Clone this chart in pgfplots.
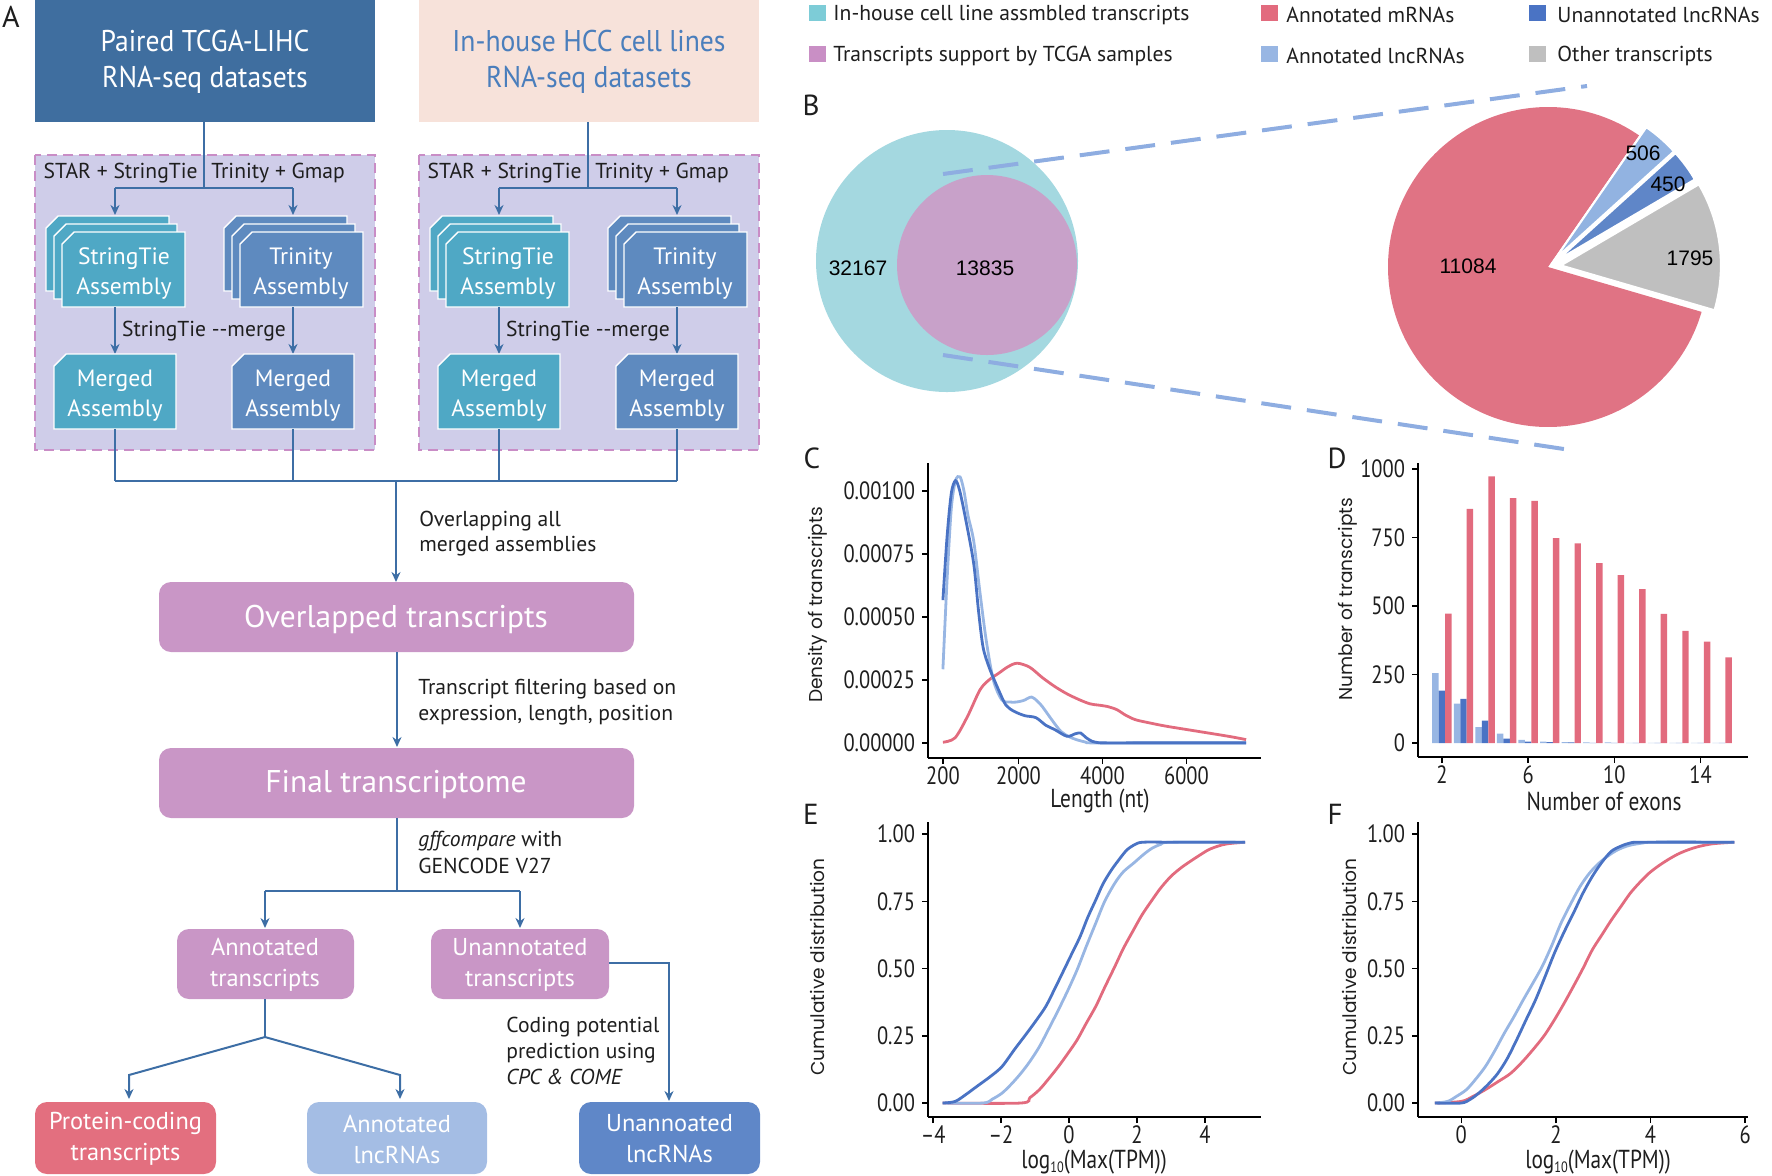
\documentclass[border=0pt]{standalone}
\usepackage{pgfplots}
\pgfplotsset{compat=1.18}
\usepackage{fontspec}
\setmainfont{PT Sans}
\newfontfamily\geo{Poppins}
\newfontfamily\arl{Liberation Sans}
\newfontfamily\cond{PT Sans}[FakeStretch=0.82]
\newfontfamily\semicond{PT Sans}[FakeStretch=0.92]
\usetikzlibrary{arrows.meta}

\definecolor{tbdark}{HTML}{3F6E9F}
\definecolor{peach}{HTML}{F7E2DA}
\definecolor{peachtxt}{HTML}{4A7EBC}
\definecolor{lav}{HTML}{CFCDE9}
\definecolor{lavdash}{HTML}{C98DC6}
\definecolor{tealbox}{HTML}{4FA8C5}
\definecolor{steel}{HTML}{5E8ABF}
\definecolor{flow}{HTML}{3D6EA5}
\definecolor{pinkbox}{HTML}{C996C6}
\definecolor{pcred}{HTML}{E36F7F}
\definecolor{albox}{HTML}{A4BDE4}
\definecolor{ulbox}{HTML}{5F87C8}
\definecolor{lgteal}{HTML}{7DCCD7}
\definecolor{lgmauve}{HTML}{C98FC5}
\definecolor{cred}{HTML}{E26B7E}
\definecolor{clb}{HTML}{98B6E3}
\definecolor{cdb}{HTML}{4A73C4}
\definecolor{cgray}{HTML}{BFBFBF}
\definecolor{vout}{HTML}{A4D8E0}
\definecolor{vin}{HTML}{C8A1C9}
\definecolor{dashb}{HTML}{8EADE1}
\definecolor{piered}{HTML}{E07384}
\definecolor{pielb}{HTML}{92B3E1}
\definecolor{piedb}{HTML}{5F86C8}
\definecolor{ink}{HTML}{1E1E1E}

\pgfplotsset{
  panel/.style={
    scale only axis, anchor=south west,
    axis lines*=left,
    axis line style={line width=0.9pt, black, -},
    tick style={line width=0.8pt, black},
    tick align=outside, major tick length=3pt,
    ticklabel style={font=\cond\fontsize{12.5}{13}\selectfont, text=ink},
    xticklabel style={yshift=2.2pt},
    /pgf/number format/assume math mode=true,
    scaled ticks=false,
    clip=false,
  },
  curve/.style={line width=1.4pt, smooth, tension=0.5, no markers},
}

% chamfered box: x1 y1 x2 y2 colour
\newcommand\cbox[5]{\fill[#5, draw=white, line width=0.7pt]
  (#1+12,#2) -- (#3,#2) -- (#3,#4) -- (#1,#4) -- (#1,#2+12) -- cycle;}
\newcommand\logten{log\raisebox{-2.2pt}{\fontsize{7.5}{8}\selectfont 10}}

\begin{document}
\begin{tikzpicture}
\path[use as bounding box] (0,0) rectangle (886pt,-587.5pt);

\begin{scope}[x=0.5pt, y=-0.5pt, text=ink, inner sep=0pt,
  arr/.style={flow, line width=1pt, -{Stealth[length=5pt,width=4.5pt]}},
  ln/.style={flow, line width=1pt}]
% ---------------- panel A ----------------
\node[font=\fontsize{15}{15}\selectfont] at (11,17) {A};
\fill[tbdark] (35,0) rectangle (375,122);
\fill[peach] (419,0) rectangle (759,122);
\node[white, align=center, font=\semicond\fontsize{15}{18}\selectfont] at (205,62) {Paired TCGA-LIHC\\RNA-seq datasets};
\node[peachtxt, align=center, font=\semicond\fontsize{15}{18}\selectfont] at (589,62) {In-house HCC cell lines\\RNA-seq datasets};

\foreach \s in {0,384}{
  \begin{scope}[xshift=\s*0.5pt]
  \fill[lav] (35,155) rectangle (375,450);
  \draw[lavdash, line width=1pt, dash pattern=on 5pt off 3pt] (35,155) rectangle (375,450);
  \draw[ln] (204,122) -- (204,188);
  \draw[ln] (115,188) -- (293,188);
  \draw[arr] (115,188) -- (115,215);
  \draw[arr] (293,188) -- (293,215);
  \node[anchor=east, font=\fontsize{10.8}{12}\selectfont] at (198,173) {STAR + StringTie};
  \node[anchor=west, font=\fontsize{10.8}{12}\selectfont] at (211,173) {Trinity + Gmap};
  \cbox{46}{216}{169}{291}{tealbox}\cbox{54}{224}{177}{299}{tealbox}\cbox{62}{232}{185}{307}{tealbox}
  \cbox{224}{216}{347}{291}{steel}\cbox{232}{224}{355}{299}{steel}\cbox{240}{232}{363}{307}{steel}
  \node[white, align=center, font=\fontsize{11.8}{15}\selectfont] at (124,274) {StringTie\\Assembly};
  \node[white, align=center, font=\fontsize{11.8}{15}\selectfont] at (301,274) {Trinity\\Assembly};
  \draw[arr] (115,307) -- (115,354);
  \draw[arr] (293,307) -- (293,354);
  \node[font=\fontsize{10.8}{12}\selectfont] at (204,331) {StringTie -{}-merge};
  \cbox{54}{354}{176}{429}{tealbox}
  \cbox{232}{354}{354}{429}{steel}
  \node[white, align=center, font=\fontsize{11.8}{15}\selectfont] at (115,396) {Merged\\Assembly};
  \node[white, align=center, font=\fontsize{11.8}{15}\selectfont] at (293,396) {Merged\\Assembly};
  \draw[ln] (115,429) -- (115,481);
  \draw[ln] (293,429) -- (293,481);
  \end{scope}
}
\draw[ln] (115,481) -- (677,481);
\draw[arr] (396,481) -- (396,582);
\node[anchor=base west, font=\fontsize{10.8}{12}\selectfont] at (419,526) {Overlapping all};
\node[anchor=base west, font=\fontsize{10.8}{12}\selectfont] at (419,551) {merged assemblies};

\fill[pinkbox, rounded corners=6pt] (159,582) rectangle (634,652);
\node[white, font=\fontsize{15.7}{16}\selectfont] at (396,619) {Overlapped transcripts};
\draw[arr] (397,652) -- (397,747);
\node[anchor=base west, font=\fontsize{10.8}{12}\selectfont] at (418,694) {Transcript filtering based on};
\node[anchor=base west, font=\fontsize{10.8}{12}\selectfont] at (418,720) {expression, length, position};
\fill[pinkbox, rounded corners=6pt] (159,748) rectangle (634,818);
\node[white, font=\fontsize{15.7}{16}\selectfont] at (396,785) {Final transcriptome};
\draw[ln] (397,818) -- (397,891);
\draw[ln] (265,891) -- (520,891);
\draw[arr] (265,891) -- (265,928);
\draw[arr] (520,891) -- (520,928);
\node[anchor=base west, font=\fontsize{10.8}{12}\selectfont] at (418,846) {\textit{gffcompare} with};
\node[anchor=base west, font=\fontsize{10.8}{12}\selectfont] at (418,873) {GENCODE V27};

\fill[pinkbox, rounded corners=6pt] (177,929) rectangle (354,999);
\fill[pinkbox, rounded corners=6pt] (431,929) rectangle (609,999);
\node[white, align=center, font=\fontsize{12.2}{15.5}\selectfont] at (265,965) {Annotated\\transcripts};
\node[white, align=center, font=\fontsize{12.2}{15.5}\selectfont] at (520,965) {Unannotated\\transcripts};
\draw[ln] (265,999) -- (265,1037);
\draw[arr] (265,1037) -- (129,1075) -- (129,1099);
\draw[arr] (265,1037) -- (400,1075) -- (400,1099);
\draw[arr] (609,963) -- (669,963) -- (669,1101);
\node[anchor=base west, font=\fontsize{10.8}{12}\selectfont] at (506,1032) {Coding potential};
\node[anchor=base west, font=\fontsize{10.8}{12}\selectfont] at (506,1058) {prediction using};
\node[anchor=base west, font=\fontsize{10.8}{12}\selectfont] at (506,1084) {\textit{CPC \& COME}};

\fill[pcred, rounded corners=6pt] (35,1102) rectangle (216,1174);
\fill[albox, rounded corners=6pt] (307,1102) rectangle (487,1174);
\fill[ulbox, rounded corners=6pt] (579,1102) rectangle (760,1174);
\node[white, align=center, font=\fontsize{12.2}{15.5}\selectfont] at (125.5,1139) {Protein-coding\\transcripts};
\node[white, align=center, font=\fontsize{12.2}{15.5}\selectfont] at (397,1139) {Annotated\\lncRNAs};
\node[white, align=center, font=\fontsize{12.2}{15.5}\selectfont] at (669.5,1139) {Unannoated\\lncRNAs};

% ---------------- legend ----------------
\begin{scope}[font=\fontsize{10.8}{12}\selectfont]
\fill[lgteal] (809,5) rectangle (826,21);  \node[anchor=west] at (833,15) {In-house cell line assmbled transcripts};
\fill[cred] (1261,5) rectangle (1278,21);  \node[anchor=west] at (1286,15) {Annotated mRNAs};
\fill[cdb] (1529,5) rectangle (1546,21);   \node[anchor=west] at (1557,15) {Unannotated lncRNAs};
\fill[lgmauve] (809,46) rectangle (826,62); \node[anchor=west] at (833,56) {Transcripts support by TCGA samples};
\fill[clb] (1261,46) rectangle (1278,62);  \node[anchor=west] at (1286,56) {Annotated lncRNAs};
\fill[cgray] (1529,46) rectangle (1546,62); \node[anchor=west] at (1557,56) {Other transcripts};
\end{scope}

% panel letters and axis titles
\begin{scope}[font=\fontsize{14.5}{15}\selectfont]
\node at (811,105) {B};
\node at (812,458) {C};
\node at (1337,458) {D};
\node at (811,814) {E};
\node at (1335,814) {F};
\end{scope}
\begin{scope}[font=\geo\fontsize{9.3}{10}\selectfont]
\node[rotate=90] at (818,605) {Density of transcripts};
\node[rotate=90] at (1348,599) {Number of transcripts};
\node[rotate=90] at (817,967) {Cumulative distribution};
\node[rotate=90] at (1349,967) {Cumulative distribution};
\end{scope}
\begin{scope}[font=\cond\fontsize{13}{14}\selectfont]
\node at (1100,801) {Length (nt)};
\node at (1604,801) {Number of exons};
\node at (1094,1162) {\logten(Max(TPM))};
\node at (1598,1162) {\logten(Max(TPM))};
\end{scope}
\end{scope}

% ---------------- panel B: Venn and pie ----------------
\pgfmathsetmacro\tot{11084+506+450+1795}
\pgfmathsetmacro\sA{55.3}
\pgfmathsetmacro\eA{\sA+360*(11084/\tot)}
\pgfmathsetmacro\sB{\sA-360*(506/\tot)}
\pgfmathsetmacro\sC{\sB-360*(450/\tot)}
\pgfmathsetmacro\sD{\sC-360*(1795/\tot)}
\pgfmathsetmacro\mB{(\sA+\sB)/2}
\pgfmathsetmacro\mC{(\sB+\sC)/2}
\pgfmathsetmacro\mD{(\sC+\sD)/2}
\begin{axis}[at={(400pt,-235pt)}, anchor=south west, scale only axis,
  width=486pt, height=195pt, xmin=800, xmax=1772, ymin=-470, ymax=-80,
  hide axis, clip=false]
\fill[vout] (axis cs:947,-261) circle[radius=65.5pt];
\fill[vin] (axis cs:987,-265) circle[radius=45pt];
\node[font=\arl\fontsize{10.5}{12}\selectfont] at (axis cs:858,-268) {32167};
\node[font=\arl\fontsize{10.5}{12}\selectfont] at (axis cs:985,-268) {13835};
\draw[dashb, line width=2pt, dash pattern=on 15pt off 8pt] (axis cs:943,-174) -- (axis cs:1587,-86);
\draw[dashb, line width=2pt, dash pattern=on 15pt off 8pt] (axis cs:943,-355) -- (axis cs:1577,-451);
\fill[piered] (axis cs:1548,-267) -- ++(\sA:80pt) arc[start angle=\sA, end angle=\eA, radius=80pt] -- cycle;
\fill[pielb, draw=white, line width=1pt] ([shift={(\mB:5.5pt)}]axis cs:1548,-267) -- ++(\sB:80pt) arc[start angle=\sB, end angle=\sA, radius=80pt] -- cycle;
\fill[piedb, draw=white, line width=1pt] ([shift={(\mC:5.5pt)}]axis cs:1548,-267) -- ++(\sC:80pt) arc[start angle=\sC, end angle=\sB, radius=80pt] -- cycle;
\fill[cgray, draw=white, line width=1pt] ([shift={(\mD:6.5pt)}]axis cs:1548,-267) -- ++(\sD:80pt) arc[start angle=\sD, end angle=\sC, radius=80pt] -- cycle;
\node[font=\arl\fontsize{10.5}{12}\selectfont] at (axis cs:1468,-266) {11084};
\node[font=\arl\fontsize{10.5}{12}\selectfont] at (axis cs:1643,-153) {506};
\node[font=\arl\fontsize{10.5}{12}\selectfont] at (axis cs:1668,-184) {450};
\node[font=\arl\fontsize{10.5}{12}\selectfont] at (axis cs:1690,-258) {1795};
\end{axis}

% ---------------- panel C ----------------
\begin{axis}[panel, at={(464pt,-379pt)}, width=166.5pt, height=147.5pt,
  xmin=-155, xmax=7775, ymin=-0.00006, ymax=0.00111,
  xtick={200,2000,4000,6000}, xticklabels={200,2000,4000,6000},
  ytick={0,0.00025,0.0005,0.00075,0.001},
  yticklabels={0.00000,0.00025,0.00050,0.00075,0.00100}]
\addplot[curve, cred] coordinates {(200,0.0000026) (489,0.00002) (786,0.000105) (1082,0.00021) (1300,0.00025) (1526,0.000276) (1750,0.000302) (1970,0.000316) (2267,0.0003) (2560,0.00026) (2860,0.000224) (3150,0.000195) (3451,0.000171) (3700,0.000155) (3896,0.00015) (4100,0.000145) (4340,0.000132) (4550,0.00011) (4784,0.000092) (5100,0.00008) (5525,0.000066) (6265,0.000046) (7006,0.000026) (7420,0.000013)};
\addplot[curve, clb] coordinates {(200,0.000292) (300,0.00065) (400,0.00093) (500,0.00104) (608,0.001055) (700,0.00100) (800,0.0009) (934,0.0008) (1080,0.0006) (1230,0.000408) (1400,0.00025) (1600,0.000171) (1800,0.000162) (1950,0.000162) (2118,0.000168) (2311,0.000182) (2450,0.000165) (2563,0.000145) (2800,0.00009) (3007,0.000046) (3200,0.000025) (3378,0.000013) (3600,0.000003) (3748,0) (5000,0) (7420,0)};
\addplot[curve, cdb] coordinates {(200,0.000566) (300,0.00082) (400,0.00099) (500,0.00104) (600,0.001) (750,0.00088) (934,0.00071) (1050,0.00052) (1156,0.00038) (1300,0.0003) (1526,0.00021) (1700,0.00015) (1896,0.000125) (2150,0.000108) (2415,0.0001) (2650,0.00007) (2860,0.000053) (3155,0.000026) (3350,0.000036) (3481,0.000039) (3600,0.000022) (3748,0.0000066) (3900,0.000001) (4044,0) (5000,0) (7420,0)};
\end{axis}

% ---------------- panel D ----------------
\begin{axis}[panel, at={(709pt,-378.5pt)}, width=165pt, height=147pt,
  xmin=0.89, xmax=16.2, ymin=-51, ymax=1022,
  xtick={2,6,10,14}, xticklabels={2,6,10,14},
  ytick={0,250,500,750,1000}, yticklabels={0,250,500,750,1000}]
\addplot[ybar, bar width=0.3, bar shift=-0.3, fill=clb, draw=none] coordinates {(2,255) (3,144) (4,58) (5,34) (6,12) (7,5) (8,3) (9,2) (10,2) (11,1) (12,1) (13,1) (14,1) (15,1)};
\addplot[ybar, bar width=0.3, bar shift=0, fill=cdb, draw=none] coordinates {(2,191) (3,161) (4,82) (5,16) (6,5) (7,3) (8,2) (9,1) (10,1) (11,1) (12,1) (13,1) (14,1) (15,1)};
\addplot[ybar, bar width=0.3, bar shift=0.3, fill=cred, draw=none] coordinates {(2,472) (3,855) (4,973) (5,894) (6,884) (7,748) (8,729) (9,657) (10,613) (11,562) (12,471) (13,409) (14,370) (15,313)};
\end{axis}

% ---------------- panel E ----------------
\begin{axis}[panel, at={(464pt,-558.5pt)}, width=166.5pt, height=147.5pt,
  xmin=-4.15, xmax=5.65, ymin=-0.052, ymax=1.045,
  xtick={-4,-2,0,2,4}, xticklabels={–4,–2,0,2,4},
  ytick={0,0.25,0.5,0.75,1}, yticklabels={0.00,0.25,0.50,0.75,1.00}]
\addplot[curve, cred] coordinates {(-3.72,0) (-1.42,0) (-1.15,0.02) (-0.87,0.05) (-0.6,0.09) (-0.31,0.136) (-0.03,0.185) (0.24,0.235) (0.5,0.295) (0.79,0.36) (1.05,0.43) (1.35,0.508) (1.6,0.575) (1.9,0.644) (2.15,0.7) (2.45,0.756) (2.7,0.8) (3.0,0.843) (3.3,0.875) (3.56,0.898) (3.85,0.922) (4.11,0.942) (4.4,0.956) (4.66,0.964) (5.18,0.97)};
\addplot[curve, clb] coordinates {(-3.72,0) (-2.53,0) (-2.25,0.015) (-1.97,0.037) (-1.7,0.07) (-1.42,0.11) (-1.15,0.155) (-0.87,0.21) (-0.6,0.275) (-0.31,0.347) (-0.03,0.42) (0.24,0.496) (0.5,0.58) (0.79,0.67) (1.05,0.75) (1.35,0.818) (1.6,0.86) (1.9,0.892) (2.2,0.925) (2.45,0.948) (2.7,0.962) (3.0,0.97) (5.18,0.97)};
\addplot[curve, cdb] coordinates {(-3.72,0) (-3.35,0.006) (-3.0,0.035) (-2.71,0.062) (-2.3,0.1) (-1.97,0.136) (-1.6,0.2) (-1.24,0.26) (-0.95,0.31) (-0.68,0.36) (-0.4,0.43) (-0.13,0.5) (0.1,0.56) (0.33,0.62) (0.55,0.69) (0.79,0.756) (1.0,0.815) (1.25,0.867) (1.5,0.91) (1.71,0.942) (1.95,0.962) (2.18,0.97) (3,0.97) (5.18,0.97)};
\end{axis}

% ---------------- panel F ----------------
\begin{axis}[panel, at={(709pt,-558.5pt)}, width=165pt, height=147.5pt,
  xmin=-0.915, xmax=6.06, ymin=-0.052, ymax=1.045,
  xtick={0,2,4,6}, xticklabels={0,2,4,6},
  ytick={0,0.25,0.5,0.75,1}, yticklabels={0.00,0.25,0.50,0.75,1.00}]
\addplot[curve, cred] coordinates {(-0.56,0) (0,0.006) (0.25,0.025) (0.51,0.05) (0.78,0.08) (1.04,0.11) (1.3,0.155) (1.57,0.21) (1.77,0.255) (1.97,0.31) (2.17,0.37) (2.37,0.434) (2.57,0.5) (2.77,0.57) (2.97,0.625) (3.17,0.68) (3.37,0.73) (3.57,0.78) (3.77,0.82) (3.97,0.855) (4.17,0.882) (4.37,0.905) (4.57,0.925) (4.77,0.94) (5.0,0.953) (5.31,0.964) (5.77,0.97)};
\addplot[curve, clb] coordinates {(-0.56,0) (-0.29,0.006) (-0.1,0.025) (0.11,0.05) (0.31,0.09) (0.51,0.136) (0.71,0.195) (0.91,0.26) (1.11,0.32) (1.31,0.384) (1.51,0.445) (1.71,0.508) (1.91,0.585) (2.11,0.67) (2.31,0.74) (2.51,0.805) (2.71,0.855) (2.91,0.892) (3.11,0.92) (3.31,0.942) (3.55,0.958) (3.84,0.967) (4.1,0.97) (5.77,0.97)};
\addplot[curve, cdb] coordinates {(-0.56,0) (0,0) (0.2,0.015) (0.37,0.037) (0.57,0.07) (0.77,0.11) (0.97,0.165) (1.17,0.235) (1.37,0.31) (1.57,0.384) (1.77,0.47) (1.97,0.558) (2.17,0.635) (2.37,0.706) (2.57,0.78) (2.77,0.843) (2.97,0.895) (3.17,0.936) (3.37,0.955) (3.57,0.967) (3.84,0.97) (5.77,0.97)};
\end{axis}
\end{tikzpicture}
\end{document}
